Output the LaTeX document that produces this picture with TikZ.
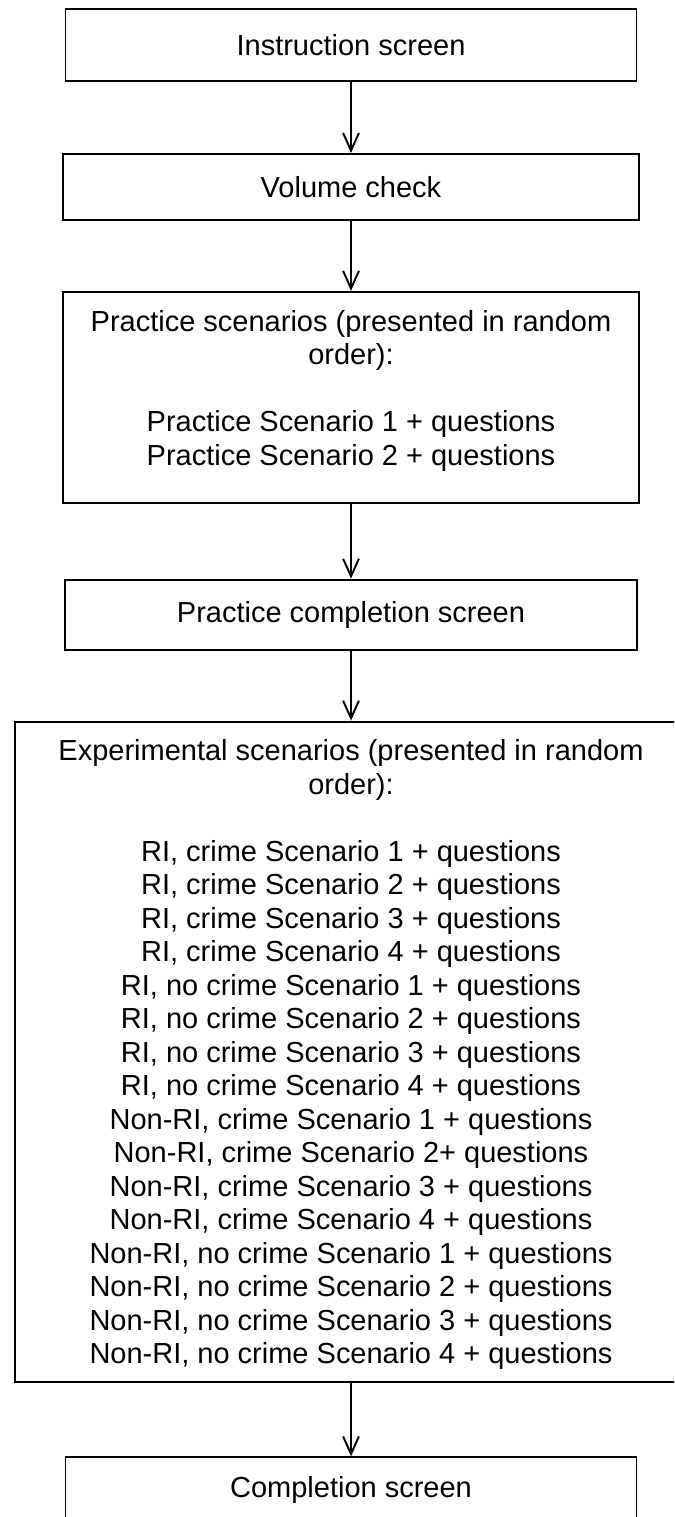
\documentclass[tikz,border=0pt]{standalone}
\usepackage{fontspec}
\setmainfont{Liberation Sans}
\usetikzlibrary{arrows.meta, positioning}
\tikzset{
  % Plain screen box
  sbox/.style={
    rectangle, draw=black, line width=1.1pt,
    align=center, inner xsep=4pt, inner ysep=10.4pt,
    font=\fontsize{16.5}{19.06}\selectfont
  },
  % Tall box, text kept at the top
  sbox top/.style={sbox, text depth=#1},
  % Arrows
  arr/.style={-{Straight Barb[length=10pt,width=9pt]}, line width=1.1pt},
}

\begin{document}
\begin{tikzpicture}[node distance=1.42cm]

  \useasboundingbox (0,0) rectangle (13.48,-30.34);
  \clip (0,0) rectangle (13.48,-30.34);

  \node[sbox, minimum width=11.42cm, minimum height=1.44cm, anchor=north]
    (instr) at (7.02,-0.16) {Instruction screen};

  \node[sbox, minimum width=11.52cm, minimum height=1.32cm, below=1.42cm of instr]
    (vol) {Volume check};

  \node[sbox top=11pt, minimum width=11.52cm, below=1.40cm of vol]
    (prac) {Practice scenarios (presented in random\\order):\\[\baselineskip]
            Practice Scenario 1 + questions\\Practice Scenario 2 + questions};

  \node[sbox, minimum width=11.44cm, minimum height=1.40cm, below=1.50cm of prac]
    (pdone) {Practice completion screen};

  \node[sbox top=0.2pt, minimum width=13.44cm, below=1.40cm of pdone]
    (expt) {Experimental scenarios (presented in random\\order):\\[\baselineskip]
            RI, crime Scenario 1 + questions\\
            RI, crime Scenario 2 + questions\\
            RI, crime Scenario 3 + questions\\
            RI, crime Scenario 4 + questions\\
            RI, no crime Scenario 1 + questions\\
            RI, no crime Scenario 2 + questions\\
            RI, no crime Scenario 3 + questions\\
            RI, no crime Scenario 4 + questions\\
            Non-RI, crime Scenario 1 + questions\\
            Non-RI, crime Scenario 2+ questions\\
            Non-RI, crime Scenario 3 + questions\\
            Non-RI, crime Scenario 4 + questions\\
            Non-RI, no crime Scenario 1 + questions\\
            Non-RI, no crime Scenario 2 + questions\\
            Non-RI, no crime Scenario 3 + questions\\
            Non-RI, no crime Scenario 4 + questions};

  \node[sbox, minimum width=11.42cm, minimum height=1.3cm, below=1.46cm of expt]
    (done) {Completion screen};

  %% Arrows
  \draw[arr] (instr) -- (vol);
  \draw[arr] (vol)   -- (prac);
  \draw[arr] (prac)  -- (pdone);
  \draw[arr] (pdone) -- (expt);
  \draw[arr] (expt)  -- (done);

\end{tikzpicture}
\end{document}
